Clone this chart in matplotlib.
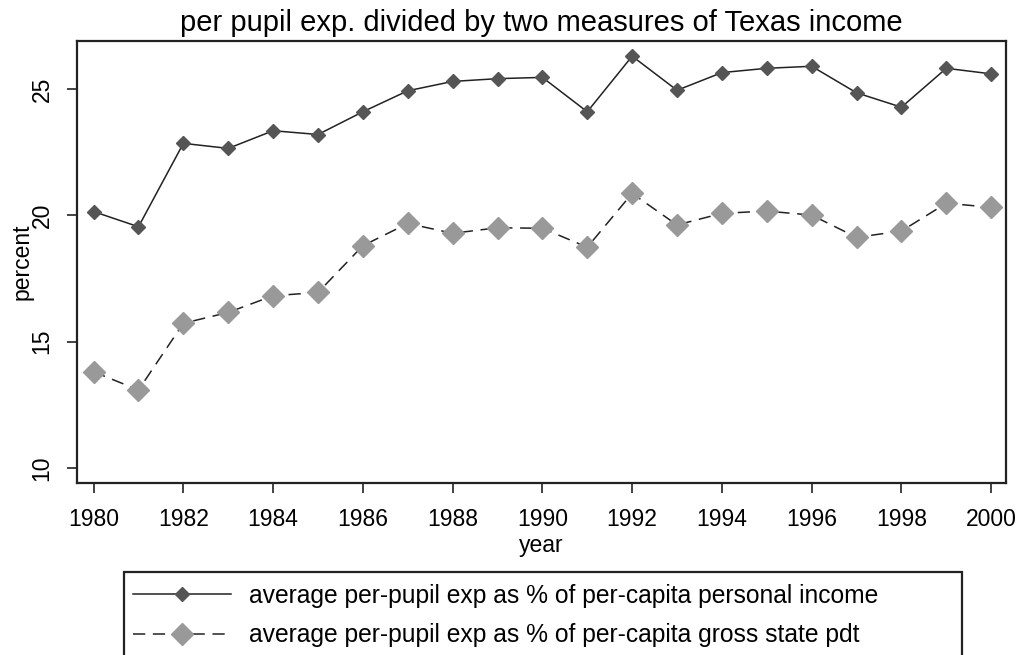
import matplotlib
matplotlib.use("Agg")
import matplotlib.pyplot as plt
from matplotlib.lines import Line2D
from matplotlib.patches import Rectangle

plt.rcParams['font.family'] = ['Liberation Sans', 'DejaVu Sans']

years = list(range(1980, 2001))
pct_personal_income = [20.15, 19.55, 22.85, 22.65, 23.35, 23.2, 24.1, 24.93, 25.3, 25.41,
                       25.46, 24.1, 26.3, 24.95, 25.65, 25.82, 25.9, 24.85, 24.28, 25.82, 25.6]
pct_gross_state_pdt = [13.81, 13.09, 15.73, 16.16, 16.82, 16.95, 18.8, 19.68, 19.29, 19.51,
                       19.49, 18.74, 20.87, 19.62, 20.08, 20.17, 20.01, 19.13, 19.38, 20.48, 20.32]
label1 = "average per-pupil exp as % of per-capita personal income"
label2 = "average per-pupil exp as % of per-capita gross state pdt"

W, H = 1025, 655
fig = plt.figure(figsize=(W / 100, H / 100), dpi=100)
ax = fig.add_axes([77 / W, 1 - 483 / H, (1006 - 77) / W, (483 - 41) / H])

ax.plot(years, pct_personal_income, color='#222222', lw=1.1,
        marker='D', ms=7, mfc='#555555', mec='#555555')
ax.plot(years, pct_gross_state_pdt, color='#222222', lw=1.1, dashes=(8, 5),
        marker='D', ms=11, mfc='#999999', mec='#999999')

ax.set_xlim(1979.63, 2000.33)
ax.set_ylim(9.41, 26.9)
ax.set_xticks(range(1980, 2001, 2))
ax.set_yticks([10, 15, 20, 25])
ax.tick_params(axis='both', direction='out', length=7, width=1.2, color='#222222', labelsize=16.5)
ax.tick_params(axis='x', pad=11)
ax.tick_params(axis='y', pad=10)
for lab in ax.get_yticklabels():
    lab.set_rotation(90)
    lab.set_va('center')
for s in ax.spines.values():
    s.set_linewidth(1.6)
    s.set_color('#222222')

ax.set_title("per pupil exp. divided by two measures of Texas income", fontsize=21, pad=7)
ax.set_xlabel("year", fontsize=16.5, labelpad=2)
ax.set_ylabel("percent", fontsize=16.5)
ax.yaxis.set_label_coords((34 - 77) / (1006 - 77), 0.5)

# legend box runs off the bottom of the figure
fig.patches.append(Rectangle((124 / W, -0.1), (962 - 124) / W, 0.1 + (655 - 572) / H,
                             transform=fig.transFigure, fill=False, ec='#222222', lw=1.6))
handles = [Line2D([], [], color='#222222', lw=1.1, marker='D', ms=7,
                  mfc='#555555', mec='#555555'),
           Line2D([], [], color='#222222', lw=1.1, dashes=(8, 5), marker='D', ms=11,
                  mfc='#999999', mec='#999999')]
fig.legend(handles, [label1, label2], loc='upper left', bbox_to_anchor=(133 / W, 1 - 584 / H),
           frameon=False, fontsize=17.7, handlelength=4.0, handletextpad=0.73,
           labelspacing=0.62, borderpad=0, borderaxespad=0)

fig.savefig("out.png", dpi=100)
